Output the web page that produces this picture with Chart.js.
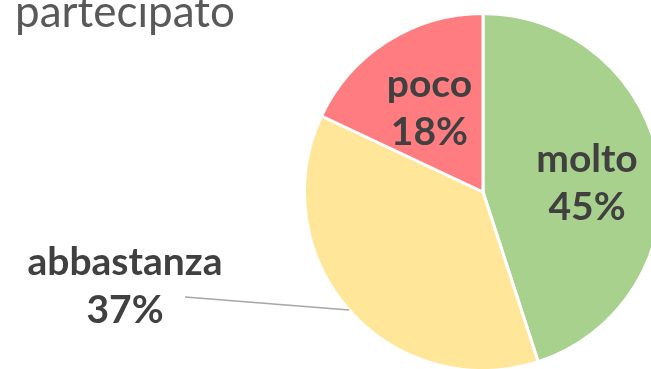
<!DOCTYPE html>
<html>
<head>
<meta charset="utf-8">
<script src="https://cdn.jsdelivr.net/npm/chart.js@4/dist/chart.umd.min.js"></script>
<style>
  html, body { margin: 0; padding: 0; background: #fff; overflow: hidden; }
  #wrap { width: 700px; height: 400px; position: relative; }
</style>
</head>
<body>
<div id="wrap"><canvas id="pieChart"></canvas></div>
<script>
// Data
const titleText = 'partecipato';
const categories = ['molto', 'abbastanza', 'poco'];
const shares = [45, 37, 18];
const sliceColors = ['#a9d18e', '#ffe699', '#ff7c80'];

// label placement: inside slices at a fraction of the radius, or outside with a leader line
const labelPlacement = [
    { inside: 0.59, dy: 7 },
    { lineEnd: [185, 297], text: [125, 262] },
    { inside: 0.56, dy: 0 }
];

const labelFont = 'bold 39px Lato';
const labelColor = '#404040';

// Title text and slice labels drawn on top of the pie
const pieLabels = {
    id: 'pieLabels',
    afterDatasetsDraw(chart) {
        const ctx = chart.ctx;
        ctx.save();

        ctx.fillStyle = '#595959';
        ctx.font = '44px Lato';
        ctx.textAlign = 'left';
        ctx.textBaseline = 'alphabetic';
        ctx.fillText(titleText, 15, 27);

        const meta = chart.getDatasetMeta(0);
        ctx.font = labelFont;
        ctx.textAlign = 'center';
        ctx.textBaseline = 'middle';
        meta.data.forEach((arc, i) => {
            const p = arc.getProps(['x', 'y', 'startAngle', 'endAngle', 'outerRadius'], true);
            const mid = (p.startAngle + p.endAngle) / 2;
            const pct = shares[i] + '%';
            const place = labelPlacement[i];
            let lx, ly;
            if (place.inside) {
                lx = p.x + Math.cos(mid) * p.outerRadius * place.inside;
                ly = p.y + Math.sin(mid) * p.outerRadius * place.inside + place.dy;
            } else {
                const ex = p.x + Math.cos(mid) * p.outerRadius;
                const ey = p.y + Math.sin(mid) * p.outerRadius;
                ctx.strokeStyle = '#a6a6a6';
                ctx.lineWidth = 1.5;
                ctx.beginPath();
                ctx.moveTo(ex, ey);
                ctx.lineTo(place.lineEnd[0], place.lineEnd[1]);
                ctx.stroke();
                lx = place.text[0];
                ly = place.text[1] + 23;
            }
            ctx.fillStyle = labelColor;
            ctx.fillText(categories[i], lx, ly - 23);
            ctx.fillText(pct, lx, ly + 25);
        });
        ctx.restore();
    }
};

new Chart(document.getElementById('pieChart'), {
    type: 'pie',
    data: {
        labels: categories,
        datasets: [{
            data: shares,
            backgroundColor: sliceColors,
            borderColor: '#ffffff',
            borderWidth: 3
        }]
    },
    options: {
        responsive: true,
        maintainAspectRatio: false,
        animation: false,
        layout: { padding: { left: 303, top: 12, right: 37, bottom: 28 } },
        plugins: {
            legend: { display: false },
            tooltip: { enabled: false }
        }
    },
    plugins: [pieLabels]
});
</script>
</body>
</html>
